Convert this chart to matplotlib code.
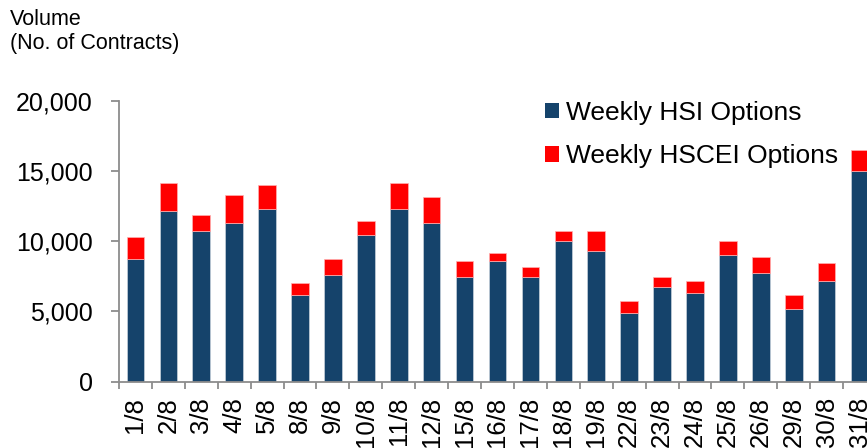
import matplotlib
matplotlib.use("Agg")
import matplotlib.pyplot as plt
import numpy as np
from matplotlib.patches import Patch

dates = ["1/8", "2/8", "3/8", "4/8", "5/8", "8/8", "9/8", "10/8", "11/8", "12/8",
         "15/8", "16/8", "17/8", "18/8", "19/8", "22/8", "23/8", "24/8", "25/8",
         "26/8", "29/8", "30/8", "31/8"]
hsi = [8700, 12120, 10700, 11270, 12270, 6150, 7570, 10420, 12270, 11270,
       7430, 8570, 7430, 9990, 9280, 4890, 6720, 6290, 9000, 7720, 5150, 7150, 14970]
total = [10300, 14120, 11840, 13270, 13980, 7020, 8710, 11420, 14120, 13120,
         8570, 9140, 8140, 10700, 10700, 5740, 7430, 7150, 9990, 8850, 6150, 8430, 16510]
hscei = [t - h for t, h in zip(total, hsi)]

yticks = [0, 5000, 10000, 15000, 20000]
ytick_labels = ["0", "5,000", "10,000", "15,000", "20,000"]

navy = "#15436B"
red = "#FF0000"
gray = "#8C8C8C"
font = "Liberation Sans"
plt.rcParams["font.family"] = [font, "DejaVu Sans"]

fig = plt.figure(figsize=(8.67, 4.48), dpi=100)
ax = fig.add_axes([119/867, 66.3/448, 757/867, 281/448])

x = np.arange(len(dates))
w = 0.535
ax.bar(x, hsi, width=w, color=navy, edgecolor="#C8D2DC", linewidth=0.5, zorder=2)
ax.bar(x, hscei, width=w, bottom=hsi, color=red, edgecolor="#FFB0B0", linewidth=0.5, zorder=2)

ax.set_xlim(-0.5, len(dates) - 0.5)
ax.set_ylim(0, 20000)

for s in ["top", "right"]:
    ax.spines[s].set_visible(False)
for s in ["left", "bottom"]:
    ax.spines[s].set_color(gray)
    ax.spines[s].set_linewidth(1.3)

ax.set_yticks(yticks)
ax.set_yticklabels(ytick_labels, fontsize=18, color="black")
ax.tick_params(axis="y", direction="out", length=6, width=1.3, color=gray, pad=13)

ax.set_xticks(x)
ax.set_xticklabels(dates, rotation=90, fontsize=18.5, ha="center", va="top")
ax.tick_params(axis="x", which="major", length=0, pad=11)
ax.set_xticks(np.arange(len(dates) + 1) - 0.5, minor=True)
ax.tick_params(axis="x", which="minor", direction="out", length=5, width=1.3, color=gray)

fig.text(10/867, 1 - 9/448, "Volume\n(No. of Contracts)", fontsize=15.5,
         ha="left", va="top", linespacing=1.2)

handles = [Patch(facecolor=navy, edgecolor="none", label="Weekly HSI Options"),
           Patch(facecolor=red, edgecolor="none", label="Weekly HSCEI Options")]
fig.legend(handles=handles, loc="upper left", bbox_to_anchor=(545/867, 1 - 101/448),
           frameon=False, fontsize=19, handlelength=0.53, handleheight=0.53,
           handletextpad=0.28, labelspacing=0.73, borderpad=0, borderaxespad=0)

fig.savefig("out.png", dpi=100)
